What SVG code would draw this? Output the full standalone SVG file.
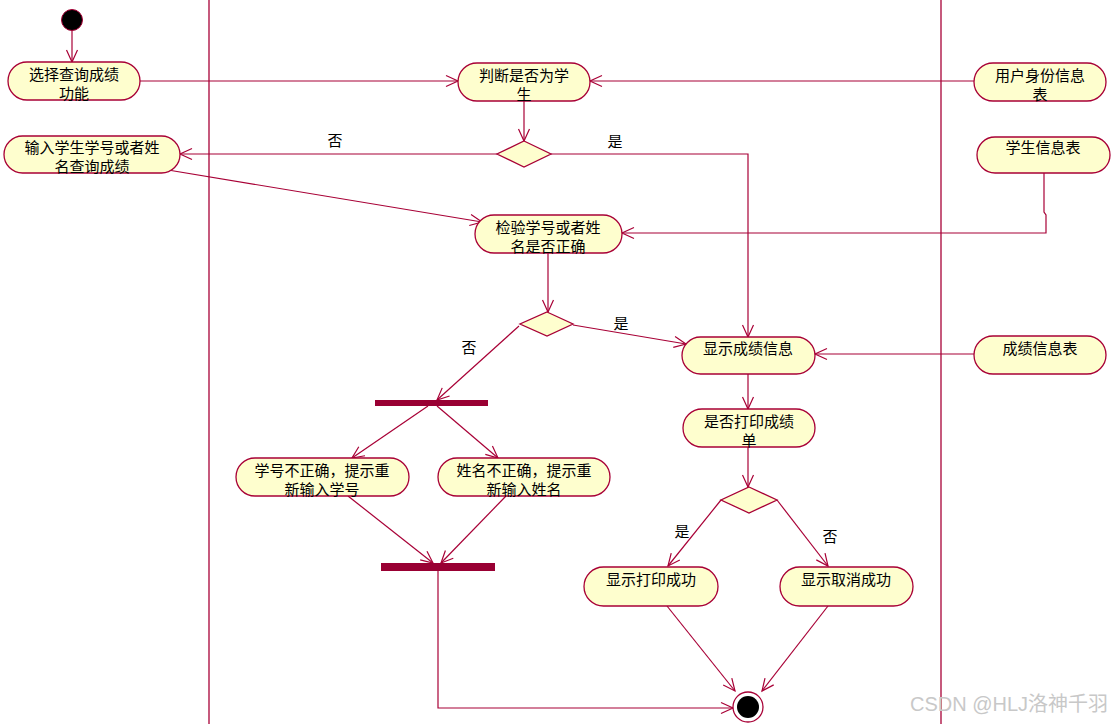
<svg xmlns="http://www.w3.org/2000/svg" width="1117" height="724" viewBox="0 0 1117 724">
<style>
.act{fill:#FEFECE;stroke:#A80036;stroke-width:1.3}
.dia{fill:#FEFECE;stroke:#A80036;stroke-width:1.3}
.bar{fill:#990033;stroke:none}
.lane{stroke:#A80036;stroke-width:1.3;fill:none}
.c{stroke:#A80036;stroke-width:1.2;fill:none;marker-end:url(#arr)}
text{font-family:"Noto Sans CJK SC","Noto Sans",sans-serif;font-size:15px;fill:#000}
.t{text-anchor:middle}
.wm{font-family:"Liberation Sans","Noto Sans CJK SC",sans-serif;font-size:20px;fill:#c8c8c8}
</style>
<defs>
<marker id="arr" markerUnits="userSpaceOnUse" markerWidth="13" markerHeight="13" refX="12" refY="6" orient="auto" overflow="visible">
<path d="M0,0.5 L12,6 L0,11.5" fill="none" stroke="#A80036" stroke-width="1.2"/>
</marker>
</defs>
<rect width="1117" height="724" fill="#fff"/>
<g id="lanes">
<line class="lane" x1="209" y1="0" x2="209" y2="724"/>
<line class="lane" x1="941" y1="0" x2="941" y2="724"/>
</g>
<g id="connectors">
<line class="c" x1="72" y1="30" x2="72" y2="62"/>
<line class="c" x1="140" y1="81" x2="458" y2="81"/>
<line class="c" x1="974" y1="81" x2="590" y2="81"/>
<line class="c" x1="524" y1="100" x2="524" y2="141"/>
<line class="c" x1="497" y1="154" x2="180" y2="154"/>
<polyline class="c" points="551,154 748,154 748,337"/>
<line class="c" x1="168" y1="170" x2="482" y2="222"/>
<polyline class="c" points="1044,173 1044,212 1046,215 1046,233 622,233"/>
<line class="c" x1="548" y1="253" x2="548" y2="312"/>
<line class="c" x1="573" y1="325" x2="686" y2="344"/>
<line class="c" x1="974" y1="354" x2="815" y2="354"/>
<line class="c" x1="519" y1="326" x2="437" y2="400"/>
<line class="c" x1="428" y1="406" x2="352" y2="458"/>
<line class="c" x1="437" y1="406" x2="498" y2="458"/>
<line class="c" x1="348" y1="496" x2="433" y2="563"/>
<line class="c" x1="506" y1="496" x2="441" y2="563"/>
<polyline class="c" points="438,571 438,708 733,708"/>
<line class="c" x1="748" y1="374" x2="748" y2="409"/>
<line class="c" x1="748" y1="447" x2="748" y2="487"/>
<line class="c" x1="721" y1="500" x2="668" y2="566"/>
<line class="c" x1="777" y1="500" x2="828" y2="566"/>
<line class="c" x1="667" y1="606" x2="735" y2="691"/>
<line class="c" x1="828" y1="606" x2="762" y2="691"/>
<text class="t" x="335" y="146">否</text>
<text class="t" x="615" y="147">是</text>
<text class="t" x="621" y="329">是</text>
<text class="t" x="469" y="353">否</text>
<text class="t" x="682" y="537">是</text>
<text class="t" x="830" y="542">否</text>
</g>
<g id="start"><circle cx="72" cy="20" r="10.5" fill="#000" stroke="#A80036" stroke-width="1"/></g>
<g id="n1"><rect class="act" x="8" y="62" width="132" height="38" rx="19"/><text class="t" x="74" y="80">选择查询成绩</text><text class="t" x="74" y="99">功能</text></g>
<g id="n2"><rect class="act" x="458" y="63" width="132" height="38" rx="19"/><text class="t" x="524" y="81">判断是否为学</text><text class="t" x="524" y="100">生</text></g>
<g id="n3"><rect class="act" x="974" y="63" width="132" height="38" rx="19"/><text class="t" x="1040" y="81">用户身份信息</text><text class="t" x="1040" y="100">表</text></g>
<g id="d1"><polygon class="dia" points="524,141 551,154 524,167 497,154"/></g>
<g id="n4"><rect class="act" x="4" y="136" width="176" height="37" rx="18.5"/><text class="t" x="92" y="153">输入学生学号或者姓</text><text class="t" x="92" y="172">名查询成绩</text></g>
<g id="n5"><rect class="act" x="977" y="137" width="133" height="36" rx="18"/><text class="t" x="1043" y="153">学生信息表</text></g>
<g id="n6"><rect class="act" x="475" y="215" width="147" height="38" rx="19"/><text class="t" x="548" y="233">检验学号或者姓</text><text class="t" x="548" y="252">名是否正确</text></g>
<g id="d2"><polygon class="dia" points="547,312 573,324 547,336 520,324"/></g>
<g id="n7"><rect class="act" x="682" y="337" width="133" height="37" rx="18.5"/><text class="t" x="748" y="354">显示成绩信息</text></g>
<g id="n8"><rect class="act" x="974" y="336" width="132" height="38" rx="19"/><text class="t" x="1040" y="354">成绩信息表</text></g>
<g id="fork1"><rect class="bar" x="375" y="400" width="113" height="6"/></g>
<g id="n9"><rect class="act" x="236" y="458" width="173" height="38" rx="19"/><text class="t" x="322" y="476">学号不正确，提示重</text><text class="t" x="322" y="495">新输入学号</text></g>
<g id="n10"><rect class="act" x="438" y="458" width="172" height="38" rx="19"/><text class="t" x="524" y="476">姓名不正确，提示重</text><text class="t" x="524" y="495">新输入姓名</text></g>
<g id="join1"><rect class="bar" x="381" y="563" width="114" height="8"/></g>
<g id="n11"><rect class="act" x="683" y="409" width="132" height="38" rx="19"/><text class="t" x="749" y="427">是否打印成绩</text><text class="t" x="749" y="446">单</text></g>
<g id="d3"><polygon class="dia" points="749,487 777,500 749,513 721,500"/></g>
<g id="n12"><rect class="act" x="584" y="567" width="134" height="39" rx="19.5"/><text class="t" x="651" y="585">显示打印成功</text></g>
<g id="n13"><rect class="act" x="780" y="567" width="133" height="39" rx="19.5"/><text class="t" x="846" y="585">显示取消成功</text></g>
<g id="end"><circle cx="748" cy="707" r="15" fill="#fff" stroke="#A80036" stroke-width="1.3"/><circle cx="748" cy="707" r="11" fill="#000"/></g>
<text class="wm" x="910" y="711">CSDN @HLJ洛神千羽</text>
</svg>
